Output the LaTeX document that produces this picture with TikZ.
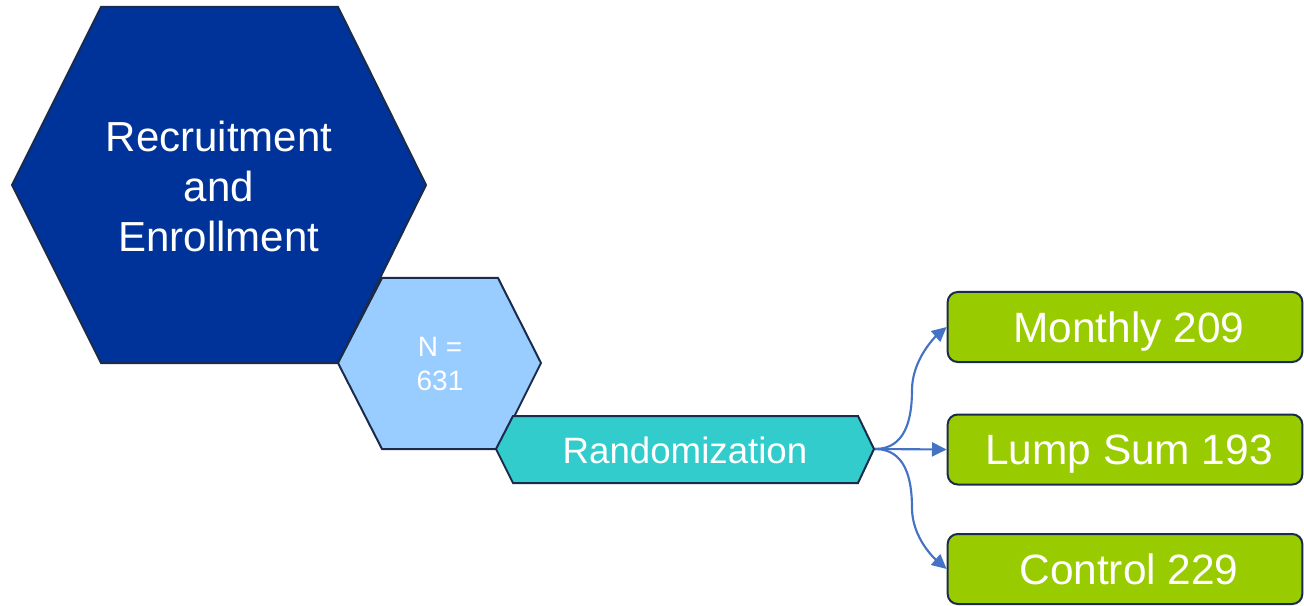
\documentclass[tikz,border=0pt]{standalone}
\usepackage{fontspec}
\setmainfont{Liberation Sans}
\usetikzlibrary{arrows.meta}
\definecolor{navy}{HTML}{003399}
\definecolor{edgecol}{HTML}{1B2B4B}
\definecolor{lightblue}{HTML}{99CCFF}
\definecolor{tealfill}{HTML}{33CCCC}
\definecolor{limefill}{HTML}{99CC00}
\definecolor{arrowblue}{HTML}{4472C4}
\begin{document}
\begin{tikzpicture}[x=0.75pt,y=-0.75pt,
  shapeline/.style={draw=edgecol,line width=1.5pt,line join=miter},
  lbl/.style={text=white,align=center,inner sep=0pt,text depth=0pt},
  gbox/.style={shapeline,fill=limefill,rounded corners=7.5pt,minimum width=266pt,minimum height=52.5pt,inner sep=0pt,text=white,text depth=0pt,font=\fontsize{31.8}{36}\selectfont},
  arr/.style={draw=arrowblue,line width=1.6pt,-{Triangle[length=11pt,width=10.5pt]}}]
\useasboundingbox (0,0) rectangle (1304,606);
% hexagons
\draw[shapeline,fill=navy] (12,185) -- (101,7) -- (338,7) -- (426,185) -- (338,363) -- (101,363) -- cycle;
\node[lbl,font=\fontsize{31.5}{37.5}\selectfont] (rec) at (219,186.5) {Recruitment\\and\\Enrollment};
\draw[shapeline,fill=lightblue] (338,363) -- (382,278) -- (498,278) -- (541,363) -- (498,449) -- (382,449) -- cycle;
\node[lbl,font=\fontsize{21}{26}\selectfont] (n) at (440,364) {N =\\631};
\draw[shapeline,fill=tealfill] (496,449) -- (513,416) -- (858,416) -- (874,449) -- (858,483) -- (513,483) -- cycle;
\node[lbl,font=\fontsize{27.5}{32}\selectfont] (rand) at (685,450) {Randomization};
\coordinate (rr) at (875,449);
% outcome boxes
\node[gbox] (m) at (1125,327) {\hspace*{6pt}Monthly 209};
\node[gbox] (l) at (1125,449.5) {\hspace*{6pt}Lump Sum 193};
\node[gbox] (c) at (1125,569) {\hspace*{6pt}Control 229};
% connectors
\draw[arr] (rr) .. controls (905,449) and (912,420) .. (912,390) .. controls (912,360) and (935,337) .. (m.west);
\draw[arr] (rr) -- (l.west);
\draw[arr] (rr) .. controls (905,449) and (912,478) .. (912,508) .. controls (912,538) and (935,559) .. (c.west);
\end{tikzpicture}
\end{document}
